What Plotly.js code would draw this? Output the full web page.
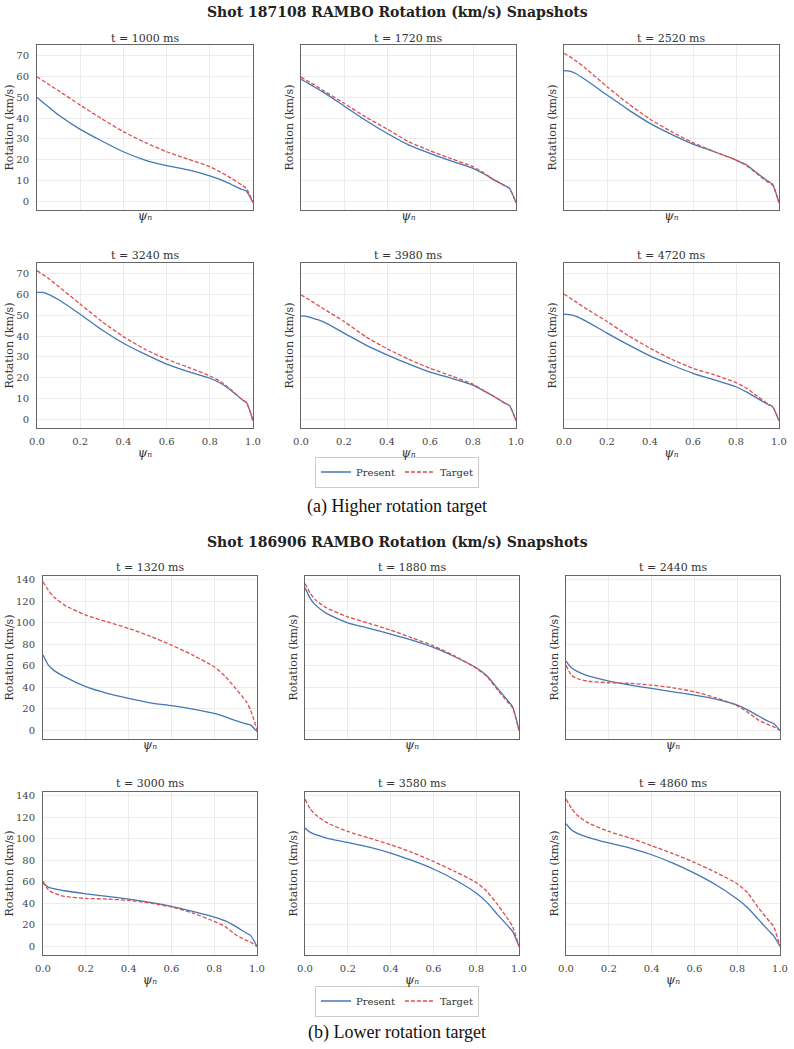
<!DOCTYPE html>
<html>
<head>
<meta charset="utf-8">
<script src="https://cdn.plot.ly/plotly-3.0.1.min.js"></script>
<style>
  html, body { margin: 0; padding: 0; background: #ffffff; }
  #chart { width: 794px; height: 1049px; }
</style>
</head>
<body>
<div id="chart"></div>
<script>
// Normalised poloidal flux grid shared by every profile
const psi = [0, 0.025, 0.05, 0.1, 0.2, 0.3, 0.4, 0.5, 0.6, 0.7, 0.8, 0.85, 0.9, 0.95, 0.97, 1.0];

// Shot 187108 (higher rotation target)
const shotA = 'Shot 187108 RAMBO Rotation (km/s) Snapshots';
const timesA = ['t = 1000 ms', 't = 1720 ms', 't = 2520 ms', 't = 3240 ms', 't = 3980 ms', 't = 4720 ms'];
const presentA_1000 = [50.0, 47.8, 45.7, 41.5, 34.6, 29.0, 23.8, 19.8, 17.1, 15.0, 12.2, 10.4, 8.0, 5.6, 4.8, -0.8];
const targetA_1000  = [60.0, 58.3, 56.6, 53.2, 46.3, 39.7, 33.5, 28.3, 23.8, 20.2, 16.6, 14.0, 11.0, 7.6, 6.0, -0.8];
const presentA_1720 = [58.8, 57.3, 55.8, 52.8, 45.9, 39.0, 32.7, 27.1, 23.0, 19.3, 15.8, 13.2, 10.1, 7.4, 6.1, -0.8];
const targetA_1720  = [59.8, 58.3, 56.8, 53.6, 47.2, 40.6, 34.8, 28.7, 24.3, 20.4, 16.6, 13.6, 10.1, 7.3, 6.1, -0.8];
const presentA_2520 = [62.9, 62.7, 61.8, 58.5, 51.2, 44.0, 37.5, 32.2, 27.5, 23.8, 19.8, 17.4, 13.4, 9.5, 8.2, -0.8];
const targetA_2520  = [71.3, 69.8, 68.1, 64.1, 55.2, 46.9, 39.5, 33.5, 28.2, 23.8, 19.8, 17.0, 12.9, 9.0, 7.7, -0.8];
const presentA_3240 = [61.1, 61.1, 60.3, 57.6, 50.6, 43.1, 36.6, 31.3, 26.5, 22.9, 19.7, 17.3, 13.7, 9.3, 7.9, -0.8];
const targetA_3240  = [71.6, 69.9, 68.1, 64.0, 55.5, 47.1, 39.8, 33.7, 28.9, 25.0, 20.8, 18.1, 14.0, 9.4, 7.9, -0.8];
const presentA_3980 = [49.8, 49.5, 48.8, 47.1, 41.5, 35.8, 31.0, 26.6, 22.6, 19.7, 16.4, 13.6, 10.8, 7.6, 6.5, -0.8];
const targetA_3980  = [60.0, 58.4, 56.8, 53.5, 47.1, 39.8, 34.0, 28.9, 24.5, 20.8, 16.8, 13.8, 10.7, 7.5, 6.5, -0.8];
const presentA_4720 = [50.6, 50.4, 49.8, 47.4, 41.5, 35.8, 30.5, 26.1, 22.1, 18.9, 15.6, 13.0, 10.0, 7.0, 6.0, -0.8];
const targetA_4720  = [60.3, 58.6, 56.9, 53.5, 47.1, 40.2, 34.2, 28.9, 24.5, 21.3, 17.6, 14.8, 11.0, 7.2, 6.0, -0.8];

// Shot 186906 (lower rotation target)
const shotB = 'Shot 186906 RAMBO Rotation (km/s) Snapshots';
const timesB = ['t = 1320 ms', 't = 1880 ms', 't = 2440 ms', 't = 3000 ms', 't = 3580 ms', 't = 4860 ms'];
const presentB_1320 = [69.8, 60.6, 55.9, 49.8, 40.5, 34.3, 29.7, 25.6, 22.9, 19.8, 15.8, 12.7, 9.0, 6.0, 4.9, -1.2];
const targetB_1320  = [137.8, 130.0, 123.9, 116.2, 106.9, 100.7, 94.6, 87.4, 79.1, 69.8, 59.0, 50.4, 38.9, 26.6, 18.8, 0.3];
const presentB_1880 = [132.2, 122.3, 116.2, 108.5, 99.8, 94.6, 89.3, 83.7, 76.9, 68.3, 58.1, 50.7, 38.9, 27.0, 21.9, 0.0];
const targetB_1880  = [136.3, 127.0, 120.8, 113.7, 105.3, 99.2, 93.0, 85.9, 78.4, 68.9, 57.6, 49.9, 37.5, 25.5, 20.9, 0.0];
const presentB_2440 = [64.3, 58.1, 55.0, 50.7, 45.7, 42.0, 38.9, 35.8, 32.7, 29.0, 23.5, 18.8, 13.3, 8.0, 6.4, 0.0];
const targetB_2440  = [60.6, 51.3, 48.2, 45.7, 44.2, 43.6, 42.0, 39.5, 35.8, 30.3, 22.8, 16.7, 9.5, 4.9, 3.5, 0.0];
const presentB_3000 = [58.7, 55.0, 53.5, 51.6, 48.8, 46.4, 43.9, 40.8, 37.1, 32.4, 27.2, 23.8, 18.5, 12.4, 10.2, 0.0];
const targetB_3000  = [60.3, 52.5, 49.4, 46.4, 44.5, 43.9, 42.6, 40.2, 36.5, 30.9, 23.2, 18.5, 10.8, 5.6, 4.0, 0.0];
const presentB_3580 = [109.8, 105.7, 103.6, 100.5, 96.4, 92.1, 86.6, 79.7, 71.8, 61.8, 49.5, 40.8, 29.4, 18.5, 13.9, 0.0];
const targetB_3580  = [136.6, 127.4, 122.1, 115.0, 106.6, 100.5, 94.3, 87.2, 78.8, 69.5, 59.3, 51.0, 38.7, 24.8, 18.5, 0.0];
const presentB_4860 = [113.8, 108.2, 105.1, 101.4, 95.9, 91.2, 85.0, 77.3, 68.0, 57.2, 43.9, 35.6, 24.8, 13.9, 9.9, 0.0];
const targetB_4860  = [136.6, 128.3, 122.1, 115.0, 106.6, 100.5, 93.4, 86.0, 77.9, 68.6, 58.1, 49.4, 35.6, 23.3, 18.5, 0.0];

const xTicks = [0, 0.2, 0.4, 0.6, 0.8, 1.0];
const yTicksA = [0, 10, 20, 30, 40, 50, 60, 70];
const yTicksB = [0, 20, 40, 60, 80, 100, 120, 140];
const xLabel = 'ψₙ';
const yLabel = 'Rotation (km/s)';
const captionA = '(a) Higher rotation target';
const captionB = '(b) Lower rotation target';
const seriesNames = ['Present', 'Target'];

// ---- page geometry (pixels) ----
const W = 794, H = 1049;
const px = v => v / W;
const py = v => 1 - v / H;

const groups = [
  {
    title: shotA, times: timesA, yTicks: yTicksA, yRange: [-4.3, 75.3],
    present: [presentA_1000, presentA_1720, presentA_2520, presentA_3240, presentA_3980, presentA_4720],
    target:  [targetA_1000, targetA_1720, targetA_2520, targetA_3240, targetA_3980, targetA_4720],
    cols: [[37, 253], [301, 516], [564, 779]],
    rows: [[45, 210], [263, 428]],
    titleY: 12, subTitleY: [38, 255], legendY: 472, caption: captionA, captionY: 507,
    legend: 'legend'
  },
  {
    title: shotB, times: timesB, yTicks: yTicksB, yRange: [-8, 143.2],
    present: [presentB_1320, presentB_1880, presentB_2440, presentB_3000, presentB_3580, presentB_4860],
    target:  [targetB_1320, targetB_1880, targetB_2440, targetB_3000, targetB_3580, targetB_4860],
    cols: [[43, 257], [305, 519], [566, 780]],
    rows: [[576, 739], [792, 955]],
    titleY: 542, subTitleY: [567, 783], legendY: 1001, caption: captionB, captionY: 1032,
    legend: 'legend2'
  }
];

const SERIF = 'DejaVu Serif';
const BLUE = '#4477b4';
const RED = '#dc4f4f';
const FRAME = '#666666';
const GRID = '#ececec';

const traces = [];
const layout = {
  width: W, height: H,
  margin: { l: 0, r: 0, t: 0, b: 0 },
  paper_bgcolor: '#ffffff', plot_bgcolor: '#ffffff',
  font: { family: SERIF, color: '#333333', size: 10 },
  annotations: [],
  showlegend: true
};

let axisIndex = 0;
groups.forEach((g) => {
  for (let k = 0; k < 6; k++) {
    axisIndex += 1;
    const r = Math.floor(k / 3), c = k % 3;
    const suffix = axisIndex === 1 ? '' : String(axisIndex);
    const xa = 'x' + suffix, ya = 'y' + suffix;
    const [x0, x1] = g.cols[c];
    const [y0, y1] = g.rows[r];

    layout['xaxis' + suffix] = {
      domain: [px(x0), px(x1)], anchor: ya,
      range: [0, 1], tickvals: xTicks, tickformat: '.1f',
      showticklabels: r === 1, ticks: '', ticklabelstandoff: 4,
      tickfont: { family: SERIF, size: 10, color: '#444444' },
      showgrid: true, gridcolor: GRID, gridwidth: 1, zeroline: false,
      showline: true, mirror: true, linecolor: FRAME, linewidth: 1,
      automargin: false,
      title: { text: '<i>' + xLabel + '</i>', font: { family: SERIF, size: 12, color: '#333333' }, standoff: r === 1 ? 2 : 1 }
    };
    layout['yaxis' + suffix] = {
      domain: [py(y1), py(y0)], anchor: xa,
      range: g.yRange, tickvals: g.yTicks,
      showticklabels: c === 0, ticks: '', ticklabelstandoff: 5,
      tickfont: { family: SERIF, size: 10, color: '#444444' },
      showgrid: true, gridcolor: GRID, gridwidth: 1, zeroline: false,
      showline: true, mirror: true, linecolor: FRAME, linewidth: 1,
      automargin: false,
      title: { text: yLabel, font: { family: SERIF, size: 11, color: '#333333' }, standoff: c === 0 ? 0 : 4 }
    };

    traces.push({
      type: 'scatter', mode: 'lines', x: psi, y: g.present[k],
      xaxis: xa, yaxis: ya, name: seriesNames[0], legend: g.legend,
      showlegend: k === 0, line: { color: BLUE, width: 1.3, shape: 'spline', smoothing: 0.6 }, hoverinfo: 'skip'
    });
    traces.push({
      type: 'scatter', mode: 'lines', x: psi, y: g.target[k],
      xaxis: xa, yaxis: ya, name: seriesNames[1], legend: g.legend,
      showlegend: k === 0, line: { color: RED, width: 1.3, dash: '4px,2px', shape: 'spline', smoothing: 0.6 }, hoverinfo: 'skip'
    });

    layout.annotations.push({
      xref: 'paper', yref: 'paper', x: px((x0 + x1) / 2), y: py(g.subTitleY[r]),
      xanchor: 'center', yanchor: 'middle', showarrow: false,
      text: g.times[k], font: { family: SERIF, size: 11, color: '#333333' }
    });
  }

  layout.annotations.push({
    xref: 'paper', yref: 'paper', x: 0.5, y: py(g.titleY),
    xanchor: 'center', yanchor: 'middle', showarrow: false,
    text: '<b>' + g.title + '</b>', font: { family: SERIF, size: 14, color: '#222222' }
  });
  layout.annotations.push({
    xref: 'paper', yref: 'paper', x: 0.5, y: py(g.captionY),
    xanchor: 'center', yanchor: 'middle', showarrow: false,
    text: g.caption, font: { family: 'Liberation Serif', size: 18, color: '#111111' }
  });

  layout[g.legend] = {
    orientation: 'h', x: 0.5, xanchor: 'center', y: py(g.legendY), yanchor: 'middle',
    bgcolor: '#ffffff', bordercolor: '#cccccc', borderwidth: 1,
    font: { family: SERIF, size: 10, color: '#333333' },
    itemwidth: 30, tracegroupgap: 0
  };
});

Plotly.newPlot('chart', traces, layout, { displayModeBar: false, staticPlot: true });
</script>
</body>
</html>
